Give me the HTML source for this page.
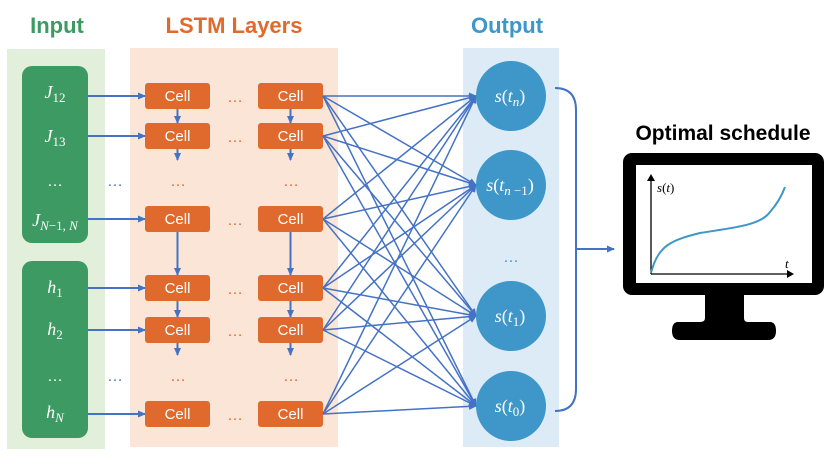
<!DOCTYPE html>
<html><head><meta charset="utf-8"><style>
body{margin:0;background:#fff;}
svg{display:block;}
.cell{fill:#E06A2E;}
.ct{font-family:"Liberation Sans",sans-serif;font-size:15px;fill:#fff;text-anchor:middle;}
.m{font-family:"Liberation Serif",serif;font-style:italic;fill:#fff;text-anchor:middle;font-size:18px;}
.dots{font-family:"Liberation Sans",sans-serif;font-size:16px;text-anchor:middle;}
</style></head><body>
<svg width="830" height="467" viewBox="0 0 830 467" xmlns="http://www.w3.org/2000/svg">
<defs>
<marker id="a" markerWidth="8" markerHeight="8" refX="7" refY="4" orient="auto" markerUnits="userSpaceOnUse"><path d="M0,0.5 L8,4 L0,7.5 z" fill="#4472C4"/></marker>
</defs>
<rect x="7" y="49" width="98" height="400" fill="#E2EFDA"/>
<rect x="130" y="48" width="208" height="399" fill="#FBE5D6"/>
<rect x="463" y="48" width="96" height="399" fill="#DDEBF7"/>
<text x="57" y="33" font-family="Liberation Sans,sans-serif" font-weight="bold" font-size="22" fill="#3D9A62" text-anchor="middle">Input</text>
<text x="234" y="33" font-family="Liberation Sans,sans-serif" font-weight="bold" font-size="22" fill="#E06A2E" text-anchor="middle">LSTM Layers</text>
<text x="507" y="33" font-family="Liberation Sans,sans-serif" font-weight="bold" font-size="22" fill="#3E97C8" text-anchor="middle">Output</text>
<rect x="22" y="66" width="66" height="177" rx="10" fill="#3D9A62"/>
<rect x="22" y="261" width="66" height="177" rx="10" fill="#3D9A62"/>
<text x="55" y="98" class="m">J<tspan font-style="normal" font-size="13" dy="4">12</tspan></text>
<text x="55" y="142" class="m">J<tspan font-style="normal" font-size="13" dy="4">13</tspan></text>
<text x="55" y="186" class="dots" fill="#fff">…</text>
<text x="55" y="226" class="m">J<tspan font-size="13" dy="4">N</tspan><tspan font-style="normal" font-size="13">−1, </tspan><tspan font-size="13">N</tspan></text>
<text x="55" y="293" class="m">h<tspan font-style="normal" font-size="13" dy="4">1</tspan></text>
<text x="55" y="335" class="m">h<tspan font-style="normal" font-size="13" dy="4">2</tspan></text>
<text x="55" y="381" class="dots" fill="#fff">…</text>
<text x="55" y="418" class="m">h<tspan font-size="13" dy="4">N</tspan></text>
<g stroke="#4472C4" stroke-width="2" marker-end="url(#a)">
<line x1="88" y1="96" x2="145" y2="96"/>
<line x1="88" y1="136" x2="145" y2="136"/>
<line x1="88" y1="219" x2="145" y2="219"/>
<line x1="88" y1="288" x2="145" y2="288"/>
<line x1="88" y1="330" x2="145" y2="330"/>
<line x1="88" y1="414" x2="145" y2="414"/>
</g>
<text x="115" y="186" class="dots" fill="#4472C4">…</text>
<text x="115" y="381" class="dots" fill="#4472C4">…</text>
<g stroke="#4472C4" stroke-width="2" marker-end="url(#a)">
<line x1="177.5" y1="108" x2="177.5" y2="123"/>
<line x1="290.5" y1="108" x2="290.5" y2="123"/>
<line x1="177.5" y1="148" x2="177.5" y2="160"/>
<line x1="290.5" y1="148" x2="290.5" y2="160"/>
<line x1="177.5" y1="231" x2="177.5" y2="275"/>
<line x1="290.5" y1="231" x2="290.5" y2="275"/>
<line x1="177.5" y1="301" x2="177.5" y2="317"/>
<line x1="290.5" y1="301" x2="290.5" y2="317"/>
<line x1="177.5" y1="343" x2="177.5" y2="355"/>
<line x1="290.5" y1="343" x2="290.5" y2="355"/>
</g>
<g>
<rect class="cell" x="145" y="83" width="65" height="26" rx="3"/><rect class="cell" x="258" y="83" width="65" height="26" rx="3"/>
<rect class="cell" x="145" y="123" width="65" height="26" rx="3"/><rect class="cell" x="258" y="123" width="65" height="26" rx="3"/>
<rect class="cell" x="145" y="206" width="65" height="26" rx="3"/><rect class="cell" x="258" y="206" width="65" height="26" rx="3"/>
<rect class="cell" x="145" y="275" width="65" height="26" rx="3"/><rect class="cell" x="258" y="275" width="65" height="26" rx="3"/>
<rect class="cell" x="145" y="317" width="65" height="26" rx="3"/><rect class="cell" x="258" y="317" width="65" height="26" rx="3"/>
<rect class="cell" x="145" y="401" width="65" height="26" rx="3"/><rect class="cell" x="258" y="401" width="65" height="26" rx="3"/>
</g>
<g class="ct">
<text x="177.5" y="101">Cell</text><text x="290.5" y="101">Cell</text>
<text x="177.5" y="141">Cell</text><text x="290.5" y="141">Cell</text>
<text x="177.5" y="224">Cell</text><text x="290.5" y="224">Cell</text>
<text x="177.5" y="293">Cell</text><text x="290.5" y="293">Cell</text>
<text x="177.5" y="335">Cell</text><text x="290.5" y="335">Cell</text>
<text x="177.5" y="419">Cell</text><text x="290.5" y="419">Cell</text>
</g>
<g class="dots" fill="#E06A2E">
<text x="235" y="102">…</text><text x="235" y="142">…</text><text x="235" y="225">…</text>
<text x="235" y="294">…</text><text x="235" y="336">…</text><text x="235" y="420">…</text>
<text x="178" y="186">…</text><text x="291" y="186">…</text>
<text x="178" y="381">…</text><text x="291" y="381">…</text>
</g>
<g stroke="#4472C4" stroke-width="1.5" marker-end="url(#a)">
<line x1="323" y1="96" x2="476" y2="96"/><line x1="323" y1="96" x2="476" y2="185"/><line x1="323" y1="96" x2="476" y2="316"/><line x1="323" y1="96" x2="476" y2="406"/>
<line x1="323" y1="136" x2="476" y2="96"/><line x1="323" y1="136" x2="476" y2="185"/><line x1="323" y1="136" x2="476" y2="316"/><line x1="323" y1="136" x2="476" y2="406"/>
<line x1="323" y1="219" x2="476" y2="96"/><line x1="323" y1="219" x2="476" y2="185"/><line x1="323" y1="219" x2="476" y2="316"/><line x1="323" y1="219" x2="476" y2="406"/>
<line x1="323" y1="288" x2="476" y2="96"/><line x1="323" y1="288" x2="476" y2="185"/><line x1="323" y1="288" x2="476" y2="316"/><line x1="323" y1="288" x2="476" y2="406"/>
<line x1="323" y1="330" x2="476" y2="96"/><line x1="323" y1="330" x2="476" y2="185"/><line x1="323" y1="330" x2="476" y2="316"/><line x1="323" y1="330" x2="476" y2="406"/>
<line x1="323" y1="414" x2="476" y2="96"/><line x1="323" y1="414" x2="476" y2="185"/><line x1="323" y1="414" x2="476" y2="316"/><line x1="323" y1="414" x2="476" y2="406"/>
</g>
<g fill="#3E97C8">
<circle cx="511" cy="96" r="35"/><circle cx="511" cy="185" r="35"/><circle cx="511" cy="316" r="35"/><circle cx="511" cy="406" r="35"/>
</g>
<text x="510" y="102" class="m">s<tspan font-style="normal">(</tspan>t<tspan font-size="13" dy="4">n</tspan><tspan font-style="normal" dy="-4">)</tspan></text>
<text x="510" y="191" class="m">s<tspan font-style="normal">(</tspan>t<tspan font-size="13" dy="4">n</tspan><tspan font-style="normal" font-size="13"> −1</tspan><tspan font-style="normal" dy="-4">)</tspan></text>
<text x="510" y="322" class="m">s<tspan font-style="normal">(</tspan>t<tspan font-style="normal" font-size="13" dy="4">1</tspan><tspan font-style="normal" dy="-4">)</tspan></text>
<text x="510" y="412" class="m">s<tspan font-style="normal">(</tspan>t<tspan font-style="normal" font-size="13" dy="4">0</tspan><tspan font-style="normal" dy="-4">)</tspan></text>
<text x="511" y="262" class="dots" fill="#3E97C8">…</text>
<path d="M555,88 Q576,88 576,110 L576,389 Q576,411 555,411" fill="none" stroke="#4472C4" stroke-width="2"/>
<line x1="576" y1="249" x2="614" y2="249" stroke="#4472C4" stroke-width="2" marker-end="url(#a)"/>
<text x="723" y="140" font-family="Liberation Sans,sans-serif" font-weight="bold" font-size="21" fill="#000" text-anchor="middle">Optimal schedule</text>
<rect x="623" y="153" width="201" height="142" rx="9" fill="#000"/>
<rect x="636" y="165" width="176" height="118" fill="#fff"/>
<rect x="705" y="294" width="39" height="30" fill="#000"/>
<path d="M705,318 Q705,322 700,322 L678,322 Q672,322 672,331 Q672,340 680,340 L768,340 Q776,340 776,331 Q776,322 770,322 L748,322 Q744,322 744,318 Z" fill="#000"/>
<g stroke="#000" stroke-width="1.3" fill="none">
<line x1="651" y1="274" x2="651" y2="178"/>
<line x1="651" y1="274" x2="790" y2="274"/>
</g>
<path d="M647,181 L651,174 L655,181 Z" fill="#000"/>
<path d="M787,270 L794,274 L787,278 Z" fill="#000"/>
<path d="M651,273 C658,245 672,240 700,233 C730,228 760,226 770,212 C778,203 782,195 785,187" fill="none" stroke="#3E97C8" stroke-width="2"/>
<text x="657" y="192" font-family="Liberation Serif,serif" font-style="italic" font-size="13">s<tspan font-style="normal">(</tspan>t<tspan font-style="normal">)</tspan></text>
<text x="785" y="268" font-family="Liberation Serif,serif" font-style="italic" font-size="13">t</text>
</svg>
</body></html>
